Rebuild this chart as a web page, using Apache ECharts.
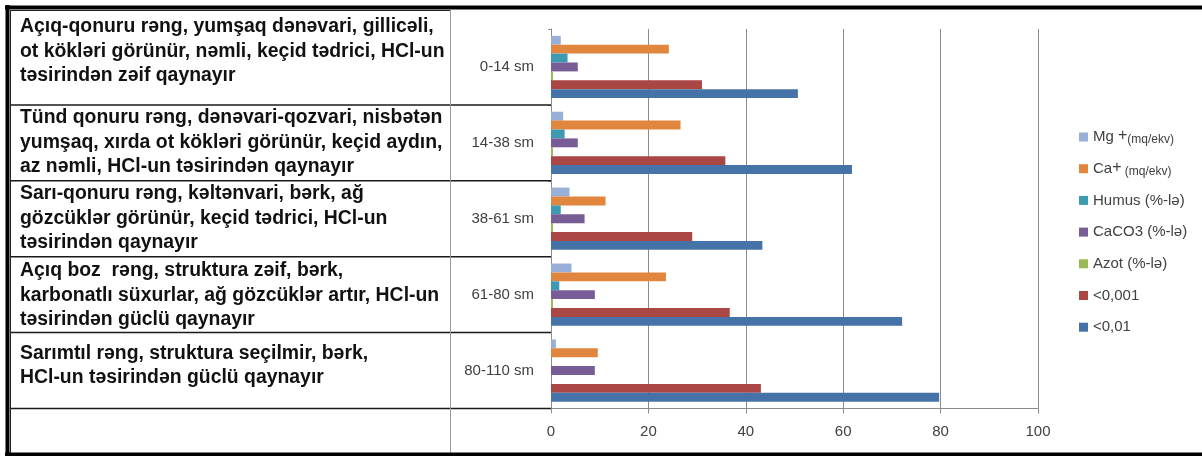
<!DOCTYPE html>
<html>
<head>
<meta charset="utf-8">
<script src="https://cdn.jsdelivr.net/npm/echarts@6/dist/echarts.min.js"></script>
<style>
  html, body { margin: 0; padding: 0; background: #ffffff; }
  #chart { width: 1202px; height: 456px; }
</style>
</head>
<body>
<div id="chart"></div>
<script>
// Soil horizons (depth) and their measured properties
const depths = ['0-14 sm', '14-38 sm', '38-61 sm', '61-80 sm', '80-110 sm'];
const mg = [2.0, 2.5, 3.8, 4.2, 1.0];
const ca = [24.2, 26.6, 11.2, 23.6, 9.6];
const humus = [3.4, 2.8, 2.0, 1.7, null];
const caco3 = [5.5, 5.5, 6.9, 9.0, 9.0];
const azot = [0.4, 0.4, 0.4, 0.4, null];
const fraction001 = [31.0, 35.8, 29.0, 36.7, 43.1];
const fraction01 = [50.7, 61.8, 43.4, 72.1, 79.7];
const xTicks = [0, 20, 40, 60, 80, 100];

// Field description of each horizon, one line per entry
const horizonNotes = [
  ['Açıq-qonuru rəng, yumşaq dənəvari, gillicəli,', 'ot kökləri görünür, nəmli, keçid tədrici, HCl-un', 'təsirindən zəif qaynayır'],
  ['Tünd qonuru rəng, dənəvari-qozvari, nisbətən', 'yumşaq, xırda ot kökləri görünür, keçid aydın,', 'az nəmli, HCl-un təsirindən qaynayır'],
  ['Sarı-qonuru rəng, kəltənvari, bərk, ağ', 'gözcüklər görünür, keçid tədrici, HCl-un', 'təsirindən qaynayır'],
  ['Açıq boz  rəng, struktura zəif, bərk,', 'karbonatlı süxurlar, ağ gözcüklər artır, HCl-un', 'təsirindən güclü qaynayır'],
  ['Sarımtıl rəng, struktura seçilmir, bərk,', 'HCl-un təsirindən güclü qaynayır']
];

const seriesDefs = [
  { name: 'Mg', data: mg, color: '#98AFD8' },
  { name: 'Ca', data: ca, color: '#E0863F' },
  { name: 'Humus (%-lə)', data: humus, color: '#3E9AB0' },
  { name: 'CaCO3 (%-lə)', data: caco3, color: '#775C95' },
  { name: 'Azot (%-lə)', data: azot, color: '#98B954' },
  { name: '<0,001', data: fraction001, color: '#AA4644' },
  { name: '<0,01', data: fraction01, color: '#4573A8' }
];

const FONT = "'Liberation Sans', Arial, sans-serif";
const GRID_GRAY = '#8C8C8C';

const chart = echarts.init(document.getElementById('chart'), null, { renderer: 'canvas' });

chart.setOption({
  animation: false,
  backgroundColor: '#ffffff',
  grid: { left: 551, right: 164, top: 29, bottom: 47.5, containLabel: false },
  legend: {
    orient: 'vertical',
    left: 1079,
    top: 128,
    padding: 0,
    itemWidth: 9,
    itemHeight: 9,
    itemGap: 13.7,
    icon: 'rect',
    data: seriesDefs.map(s => s.name),
    textStyle: {
      fontFamily: FONT, fontSize: 15, color: '#404040', lineHeight: 18,
      rich: {
        t: { fontFamily: FONT, fontSize: 15, color: '#404040', lineHeight: 18 },
        sup: { fontFamily: FONT, fontSize: 16, color: '#404040', lineHeight: 8, verticalAlign: 'top' },
        s: { fontFamily: FONT, fontSize: 12, color: '#404040', lineHeight: 14, verticalAlign: 'bottom' }
      }
    },
    formatter: function (name) {
      if (name === 'Mg') return '{t|Mg }{sup|+}{s|(mq/ekv)}';
      if (name === 'Ca') return '{t|Ca}{sup|+}{s| (mq/ekv)}';
      return '{t|' + name + '}';
    }
  },
  xAxis: {
    type: 'value',
    min: xTicks[0],
    max: xTicks[xTicks.length - 1],
    interval: xTicks[1] - xTicks[0],
    axisLine: { show: true, lineStyle: { color: GRID_GRAY, width: 1 } },
    axisTick: { show: true, length: 5, lineStyle: { color: GRID_GRAY } },
    splitLine: { show: true, lineStyle: { color: GRID_GRAY, width: 1 } },
    axisLabel: { fontFamily: FONT, fontSize: 15, color: '#404040', margin: 16 }
  },
  yAxis: {
    type: 'category',
    data: depths,
    inverse: true,
    axisLine: { show: true, lineStyle: { color: GRID_GRAY, width: 1 } },
    axisTick: { show: true, length: 3, lineStyle: { color: GRID_GRAY } },
    splitLine: { show: false },
    axisLabel: { fontFamily: FONT, fontSize: 15, color: '#404040', margin: 17 }
  },
  series: seriesDefs.map(s => ({
    name: s.name,
    type: 'bar',
    data: s.data,
    barGap: '0%',
    barCategoryGap: '18%',
    itemStyle: { color: s.color },
    emphasis: { disabled: true }
  }))
});

// Table frame and horizon descriptions, aligned to the category bands
const yOf = d => chart.convertToPixel({ yAxisIndex: 0 }, d);
const band = yOf(depths[1]) - yOf(depths[0]);
const bottoms = depths.map(d => yOf(d) + band / 2);
const axisX = chart.convertToPixel({ xAxisIndex: 0 }, xTicks[0]);
const cellTops = [10].concat(bottoms.slice(0, depths.length - 1));
const firstLineOffset = [17, 13, 13, 14, 21];
const lineH = 24.5;

const graphics = [];
// row separators, running from the table frame to the value axis
bottoms.forEach(y => {
  graphics.push({ type: 'line', shape: { x1: 10, y1: y, x2: axisX, y2: y },
    style: { stroke: '#1a1a1a', lineWidth: 1.5 }, z: 10 });
});
// inner table frame
graphics.push({ type: 'line', shape: { x1: 10.5, y1: 10, x2: 10.5, y2: 453 }, style: { stroke: '#222', lineWidth: 1 }, z: 10 });
graphics.push({ type: 'line', shape: { x1: 10, y1: 10.5, x2: 450, y2: 10.5 }, style: { stroke: '#222', lineWidth: 1 }, z: 10 });
// divider between description column and chart
graphics.push({ type: 'line', shape: { x1: 450.5, y1: 10, x2: 450.5, y2: 453 }, style: { stroke: '#9a9a9a', lineWidth: 1 }, z: 10 });
// heavy outer border
graphics.push({ type: 'line', shape: { x1: 5, y1: 7.5, x2: 1202, y2: 7.5 }, style: { stroke: '#000', lineWidth: 4 }, z: 11 });
graphics.push({ type: 'line', shape: { x1: 7.5, y1: 5, x2: 7.5, y2: 456 }, style: { stroke: '#000', lineWidth: 4 }, z: 11 });
graphics.push({ type: 'line', shape: { x1: 5, y1: 454.5, x2: 1202, y2: 454.5 }, style: { stroke: '#000', lineWidth: 4 }, z: 11 });
// horizon descriptions
horizonNotes.forEach((lines, i) => {
  graphics.push({
    type: 'text',
    x: 20,
    y: cellTops[i] + firstLineOffset[i] - lineH / 2,
    z: 12,
    style: {
      text: lines.join('\n'),
      font: 'bold 19.4px ' + FONT,
      fill: '#111111',
      lineHeight: lineH,
      textVerticalAlign: 'top',
      textAlign: 'left'
    }
  });
});

chart.setOption({ graphic: graphics });
</script>
</body>
</html>
